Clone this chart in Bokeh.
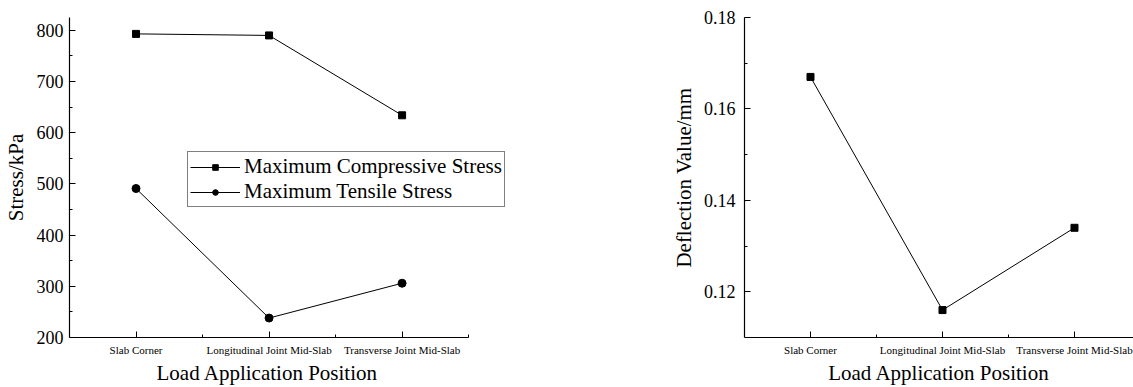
from bokeh.plotting import figure
from bokeh.layouts import row
from bokeh.models import Range1d, FixedTicker, Legend, LegendItem, Title
from bokeh.embed import file_html
from bokeh.resources import INLINE

categories = ["Slab Corner", "Longitudinal Joint Mid-Slab", "Transverse Joint Mid-Slab"]
compressive = [793, 790, 634]
tensile = [491, 238, 306]
deflection = [0.167, 0.116, 0.134]
stress_ticks = [200, 300, 400, 500, 600, 700, 800]
stress_minor = [250, 350, 450, 550, 650, 750]
defl_ticks = [0.12, 0.14, 0.16, 0.18]
defl_minor = [0.13, 0.15, 0.17]
xlabel = "Load Application Position"

xpos = [i + 1 for i in range(len(categories))]
xminor = [1.5, 2.5, 3.5]
FONT = "Liberation Serif"


def style(p, yticks, yminor, ylabel, label_standoff, title_standoff, with_xlabel=True):
    p.grid.visible = False
    p.outline_line_color = None
    p.background_fill_color = "white"
    p.border_fill_color = "white"
    for ax in (p.xaxis[0], p.yaxis[0]):
        ax.axis_line_color = "black"
        ax.axis_line_width = 1.2
        ax.major_tick_line_color = "black"
        ax.minor_tick_line_color = "black"
        ax.major_tick_in = 6
        ax.major_tick_out = 0
        ax.minor_tick_in = 3
        ax.minor_tick_out = 0
        ax.major_label_text_font = FONT
        ax.axis_label_text_font = FONT
        ax.axis_label_text_font_style = "normal"
        ax.axis_label_text_font_size = "21px"
        ax.axis_label_text_color = "black"
        ax.major_label_text_color = "black"
    xa = p.xaxis[0]
    xa.ticker = FixedTicker(ticks=xpos, minor_ticks=xminor)
    xa.major_label_overrides = {x: c for x, c in zip(xpos, categories)}
    xa.major_label_text_font_size = "11px"
    xa.major_label_standoff = 6
    if with_xlabel:
        xa.axis_label = xlabel
        xa.axis_label_standoff = 2
    ya = p.yaxis[0]
    ya.ticker = FixedTicker(ticks=yticks, minor_ticks=yminor)
    ya.major_label_text_font_size = "18px"
    ya.major_label_standoff = label_standoff
    ya.axis_label = ylabel
    ya.axis_label_standoff = title_standoff


p1 = figure(width=600, height=387, x_range=Range1d(0.5, 3.83), y_range=Range1d(200, 825),
            output_backend="svg", toolbar_location=None,
            min_border_left=69, min_border_right=88, min_border_top=17, min_border_bottom=0)
style(p1, stress_ticks, stress_minor, "Stress/kPa", 6, 6, with_xlabel=False)
p1.xaxis[0].bounds = (0.5, 3.5)
t1 = Title(text=xlabel, align="left", offset=87, text_font=FONT, text_font_size="21px",
           text_font_style="normal", text_color="black", standoff=0)
p1.add_layout(t1, "below")

l1 = p1.line(xpos, compressive, line_color="black", line_width=1)
s1 = p1.scatter(xpos, compressive, marker="square", size=7, fill_color="black", line_color="black")
l2 = p1.line(xpos, tensile, line_color="black", line_width=1)
s2 = p1.scatter(xpos, tensile, marker="circle", size=8, fill_color="black", line_color="black")

legend = Legend(items=[
    LegendItem(label="Maximum Compressive Stress", renderers=[l1, s1]),
    LegendItem(label="Maximum Tensile Stress", renderers=[l2, s2]),
], location=(118, 130))
legend.label_text_font = FONT
legend.label_text_font_size = "21px"
legend.label_text_color = "black"
legend.glyph_width = 50
legend.glyph_height = 14
legend.label_height = 24
legend.label_standoff = 4
legend.padding = 2
legend.spacing = 0
legend.margin = 0
legend.border_line_color = "black"
legend.border_line_width = 1
legend.background_fill_alpha = 1
p1.add_layout(legend, "center")

p2 = figure(width=533, height=387, x_range=Range1d(0.5, 3.447), y_range=Range1d(0.11, 0.18),
            output_backend="svg", toolbar_location=None,
            min_border_left=144, min_border_right=0, min_border_top=17, min_border_bottom=20)
style(p2, defl_ticks, defl_minor, "Deflection Value/mm", 9, 5)
p2.line(xpos, deflection, line_color="black", line_width=1)
p2.scatter(xpos, deflection, marker="square", size=7, fill_color="black", line_color="black")

layout = row(p1, p2)
open("out.html", "w").write(file_html(layout, INLINE))
